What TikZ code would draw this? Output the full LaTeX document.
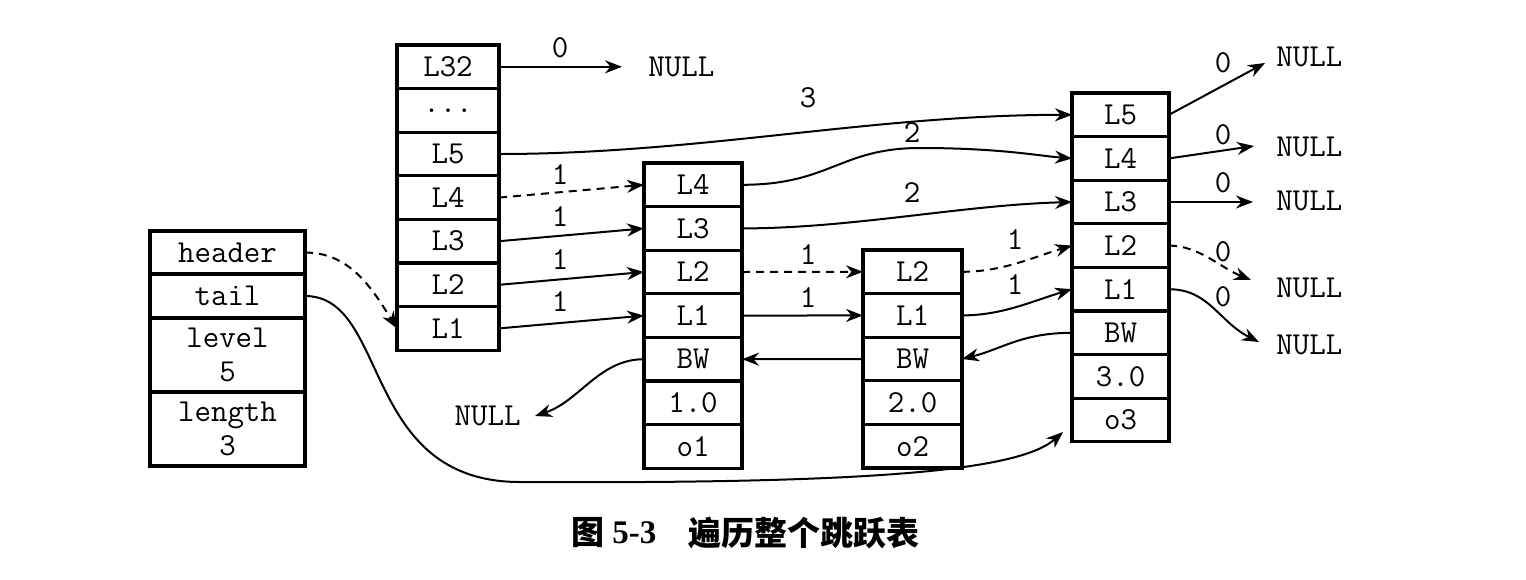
\documentclass[tikz,border=0pt]{standalone}
\usepackage{fontspec}
\setmainfont{Liberation Serif}
\newfontfamily\cjk{Noto Sans CJK SC}
\usetikzlibrary{arrows.meta}
\begin{document}
\begin{tikzpicture}[x=0.5pt,y=-0.5pt,
  cell/.style={draw,line width=1.6pt,inner sep=0pt,outer sep=0pt,minimum height=21.8pt,
    font=\ttfamily\fontsize{16}{16}\selectfont,align=center},
  hcell/.style={cell,minimum width=51pt},
  acell/.style={cell,minimum width=49pt},
  bcell/.style={cell,minimum width=49.5pt},
  ccell/.style={cell,minimum width=48.5pt},
  lcell/.style={cell,minimum width=77.5pt},
  lab/.style={inner sep=0pt,font=\ttfamily\fontsize{16}{16}\selectfont},
  link/.style={line width=1pt,-{Stealth[length=8.5pt,width=6.5pt]}},
  dlink/.style={link,dash pattern=on 4pt off 3pt}]
\useasboundingbox (0,0) rectangle (1526,579);
% header column
\node[hcell] (h32) at (448,66.8) {L32};
\node[hcell] (hdots) at (448,110.4) {...};
\node[hcell] (h5) at (448,154) {L5};
\node[hcell] (h4) at (448,197.6) {L4};
\node[hcell] (h3) at (448,241.2) {L3};
\node[hcell] (h2) at (448,284.8) {L2};
\node[hcell] (h1) at (448,328.4) {L1};
% node 1
\node[acell] (a4) at (693,184.8) {L4};
\node[acell] (a3) at (693,228.4) {L3};
\node[acell] (a2) at (693,272) {L2};
\node[acell] (a1) at (693,315.6) {L1};
\node[acell] (abw) at (693,359.2) {BW};
\node[acell] (asc) at (693,402.8) {1.0};
\node[acell] (aobj) at (693,446.4) {o1};
% node 2
\node[bcell] (b2) at (912.5,271.8) {L2};
\node[bcell] (b1) at (912.5,315.4) {L1};
\node[bcell] (bbw) at (912.5,359) {BW};
\node[bcell] (bsc) at (912.5,402.6) {2.0};
\node[bcell] (bobj) at (912.5,446.2) {o2};
% node 3
\node[ccell] (c5) at (1120.5,114.8) {L5};
\node[ccell] (c4) at (1120.5,158.4) {L4};
\node[ccell] (c3) at (1120.5,202) {L3};
\node[ccell] (c2) at (1120.5,245.6) {L2};
\node[ccell] (c1) at (1120.5,289.2) {L1};
\node[ccell] (cbw) at (1120.5,332.8) {BW};
\node[ccell] (csc) at (1120.5,376.4) {3.0};
\node[ccell] (cobj) at (1120.5,420) {o3};
% list struct
\node[lcell,minimum height=21.5pt] (lhead) at (227.5,252.5) {header};
\node[lcell,minimum height=22pt] (ltail) at (227.5,296) {tail};
\node[lcell,minimum height=37pt] (llevel) at (227.5,355) {level\\[1pt]5};
\node[lcell,minimum height=37pt] (llength) at (227.5,429) {length\\[1pt]3};
% NULL texts
\node[lab,anchor=west] (null32) at (648,66.8) {NULL};
\node[lab,anchor=east] (nullbw) at (521,416) {NULL};
\node[lab,anchor=west] (null5) at (1276,57) {NULL};
\node[lab,anchor=west] (null4) at (1276,147) {NULL};
\node[lab,anchor=west] (null3) at (1276,201) {NULL};
\node[lab,anchor=west] (null2) at (1276,288) {NULL};
\node[lab,anchor=west] (null1) at (1276,345) {NULL};
\coordinate (e32) at (622,66.8);
\coordinate (ebw) at (535,416);
\coordinate (e5) at (1265,63);
\coordinate (e4) at (1254,146);
\coordinate (e3) at (1253,202);
\coordinate (e2) at (1251,280);
\coordinate (e1) at (1259,342);
\coordinate (eo3) at (1063,432);
% span labels
\node[lab] (s32) at (560,48) {0};
\node[lab] (s5) at (808,98) {3};
\node[lab] (s4) at (560,175) {1};
\node[lab] (s3) at (560,217) {1};
\node[lab] (s2) at (560,260) {1};
\node[lab] (s1) at (560,302) {1};
\node[lab] (sa4) at (912,133) {2};
\node[lab] (sa3) at (912,193) {2};
\node[lab] (sa2) at (808,255) {1};
\node[lab] (sa1) at (808,298) {1};
\node[lab] (sb2) at (1015,240) {1};
\node[lab] (sb1) at (1015,285) {1};
\node[lab] (sc5) at (1223,63) {0};
\node[lab] (sc4) at (1223,135) {0};
\node[lab] (sc3) at (1223,183) {0};
\node[lab] (sc2) at (1223,252) {0};
\node[lab] (sc1) at (1223,297) {0};
% connectors
\draw[link] (h32.east) -- (e32);
\draw[link] (h5.east) .. controls +(200,0) and +(-200,0) .. (c5.west);
\draw[dlink] (h4.east) -- (a4.west);
\draw[link] (h3.east) -- (a3.west);
\draw[link] (h2.east) -- (a2.west);
\draw[link] (h1.east) -- (a1.west);
\draw[link] (a4.east) .. controls (830,184.8) and (840,148) .. (920,148) .. controls (1000,148) and (1040,156) .. (c4.west);
\draw[link] (a3.east) .. controls +(110,0) and +(-110,3) .. (c3.west);
\draw[dlink] (a2.east) -- (b2.west);
\draw[link] (a1.east) -- (b1.west);
\draw[link] (bbw.west) -- (abw.east);
\draw[link] (cbw.west) .. controls +(-50,0) and +(40,-10) .. (bbw.east);
\draw[dlink] (b2.east) .. controls +(40,0) and +(-40,12) .. (c2.west);
\draw[link] (b1.east) .. controls +(40,0) and +(-40,12) .. (c1.west);
\draw[link] (abw.west) .. controls +(-45,0) and +(45,-15) .. (ebw);
\draw[dlink] (lhead.east) .. controls +(45,0) and +(-25,-40) .. (h1.west);
\draw[link] (ltail.east) .. controls (390,296) and (360,482) .. (520,482) .. controls (880,484) and (1020,470) .. (eo3);
\draw[link] (c5.east) -- (e5);
\draw[link] (c4.east) -- (e4);
\draw[link] (c3.east) -- (e3);
\draw[dlink] (c2.east) .. controls +(30,0) and +(-30,-12) .. (e2);
\draw[link] (c1.east) .. controls +(40,0) and +(-40,-20) .. (e1);
% caption
\node[inner sep=0pt,font=\cjk\bfseries\fontsize{16.5}{18}\selectfont] (cap1) at (588,533) {图};
\node[inner sep=0pt,anchor=west,font=\rmfamily\bfseries\fontsize{16.5}{18}\selectfont] (cap2) at (612,533) {5-3};
\node[inner sep=0pt,anchor=west,font=\cjk\bfseries\fontsize{16.5}{18}\selectfont] (cap3) at (688,533) {遍历整个跳跃表};
\end{tikzpicture}
\end{document}
